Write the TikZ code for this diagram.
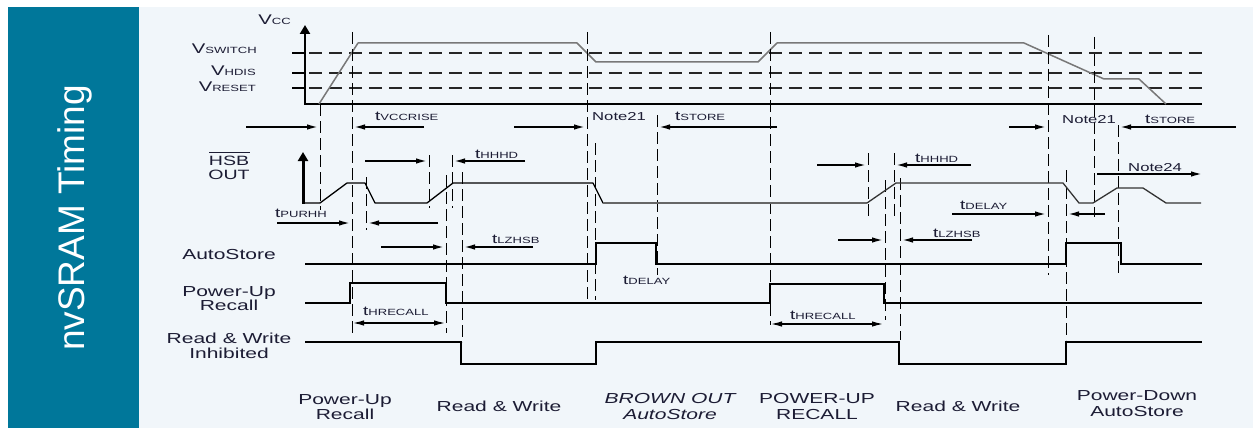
\documentclass[tikz,border=0pt]{standalone}
\usepackage{fontspec}
\setmainfont{Liberation Sans}
\newfontfamily\wide[FakeStretch=1.45]{Liberation Sans}
\usetikzlibrary{arrows.meta}
\definecolor{tealbar}{RGB}{0,119,154}
\definecolor{panel}{RGB}{241,246,250}
\definecolor{ink}{RGB}{28,28,52}
\definecolor{vwave}{RGB}{120,120,120}
\newcommand{\tlab}[2]{{\fontsize{13}{13}\selectfont #1}{\fontsize{9}{9}\selectfont #2}}
\newcommand{\vlab}[2]{{\fontsize{14}{14}\selectfont #1}{\fontsize{9}{9}\selectfont #2}}
\tikzset{
  vdash/.style={line width=0.9pt, dash pattern=on 12pt off 5pt},
  lvl/.style={line width=1.1pt, dash pattern=on 13pt off 7pt, black!85},
  tarr/.style={line width=2pt, -{Latex[length=12pt,width=5.5pt]}},
  tarrb/.style={line width=1.8pt, {Latex[length=12pt,width=5.5pt]}-{Latex[length=12pt,width=5.5pt]}},
  sig/.style={line width=2.2pt, line join=miter},
  axisline/.style={line width=2.6pt, line join=miter},
  lab/.style={font=\wide\fontsize{14.5}{15}\selectfont, text=ink, inner sep=0pt, anchor=base},
  tl/.style={font=\wide, text=ink, inner sep=0pt, anchor=base west},
  notel/.style={font=\wide\fontsize{11.5}{12}\selectfont, text=ink, inner sep=0pt, anchor=base west},
  vl/.style={font=\wide, text=ink, inner sep=0pt, anchor=base east}
}
\begin{document}
\begin{tikzpicture}[x=1pt,y=-1pt]
\useasboundingbox (0,0) rectangle (1253,428);
\fill[white] (0,0) rectangle (1253,428);
\fill[panel] (139,7) rectangle (1253,428);
\fill[tealbar] (8,7) rectangle (139,428);
\node[rotate=90, text=white, font=\fontsize{37}{37}\selectfont] (title) at (75,218) {nvSRAM Timing};

% voltage levels
\foreach \y in {53,73,88} {
  \draw[line width=1.1pt] (292,\y) -- (305,\y);
  \draw[lvl] (309,\y) -- (1202,\y);
}
% Vcc axis
\draw[axisline, {Triangle[length=9pt,width=10pt]}-] (305,25) -- (305,104) -- (1202,104);
% Vcc waveform
\draw[vwave, line width=1.5pt, line join=round] (319,104) -- (358,43) -- (577,43) -- (596,62) -- (758,62) -- (777,43) -- (1024,43) -- (1104,79) -- (1139,79) -- (1166,104);

% level labels
\node[vl] (vcc) at (291,25) {\vlab{V}{CC}};
\node[vl] (vsw) at (257,54) {\vlab{V}{SWITCH}};
\node[vl] (vhd) at (256,76) {\vlab{V}{HDIS}};
\node[vl] (vrs) at (256,92) {\vlab{V}{RESET}};

% dashed verticals
\foreach \x/\a/\b in {320/104/210, 352/32/333, 366/177/230, 429/155/208, 446/175/333, 452/155/208, 462/172/342,
  587/32/300, 595/143/300, 657/115/275, 770/32/325, 868/153/217, 885/180/320, 894/153/217, 900/178/340,
  1048/35/275, 1066/170/340, 1094/37/217, 1118/125/277} {
  \draw[vdash] (\x,\a) -- (\x,\b);
}

% HSB OUT
\draw[axisline, line width=3pt, {Triangle[length=9pt,width=10pt]}-] (303,152) -- (303,204);
\draw[line width=1.3pt, line join=round] (303,203) -- (320,203) -- (347,183) -- (365,183) -- (375,203) -- (427,203) -- (453,183) -- (593,183) -- (603,203) -- (610,203);
\draw[black!60, line width=1.3pt] (603,203) -- (867,203);
\draw[black!80, line width=1.3pt, line join=round] (867,203) -- (896,183) -- (1063,183) -- (1079,203) -- (1093,203) -- (1117,188) -- (1143,188) -- (1166,203) -- (1201,203);

\node[lab, font=\wide\fontsize{13.5}{14}\selectfont] (hsb) at (229,165) {HSB};
\draw[ink, line width=1pt] (209,152) -- (250,152);
\node[lab, font=\wide\fontsize{13.5}{14}\selectfont] (hout) at (229,179) {OUT};

% signals
\draw[sig] (305,264) -- (596,264) -- (596,243) -- (656,243) -- (656,264) -- (1066,264) -- (1066,243) -- (1121,243) -- (1121,264) -- (1202,264);
\draw[sig] (305,303) -- (350,303) -- (350,283) -- (446,283) -- (446,303) -- (770,303) -- (770,284) -- (884,284) -- (884,303) -- (1202,303);
\draw[sig] (305,342) -- (461,342) -- (461,364) -- (596,364) -- (596,342) -- (899,342) -- (899,364) -- (1066,364) -- (1066,342) -- (1202,342);

% timing arrows
\draw[tarr] (246,127) -- (319,127);
\draw[tarr] (424,127) -- (353,127);
\draw[tarr] (514,127) -- (586,127);
\draw[tarr] (777,127) -- (658,127);
\draw[tarr] (1009,127) -- (1047,127);
\draw[tarr] (1236,127) -- (1119,127);
\draw[tarr] (365,161) -- (428,161);
\draw[tarr] (525,161) -- (453,161);
\draw[tarr] (817,165) -- (867,165);
\draw[tarr] (971,165) -- (895,165);
\draw[tarr] (1097,174) -- (1203,174);
\draw[tarr] (277,223) -- (351,223);
\draw[tarr] (438,223) -- (367,223);
\draw[tarr] (952,214) -- (1047,214);
\draw[tarr] (1105,214) -- (1067,214);
\draw[tarr] (381,247) -- (445,247);
\draw[tarr] (533,247) -- (463,247);
\draw[tarr] (838,240) -- (884,240);
\draw[tarr] (972,240) -- (901,240);
\draw[tarrb] (352,323) -- (446,323);
\draw[tarrb] (770,324) -- (884,324);

% timing labels
\node[tl] (t1) at (375,121) {\tlab{t}{VCCRISE}};
\node[notel] (n1) at (592,121) {Note21};
\node[tl] (t2) at (675,121) {\tlab{t}{STORE}};
\node[notel] (n2) at (1062,123) {Note21};
\node[tl] (t3) at (1145,123) {\tlab{t}{STORE}};
\node[tl] (t4) at (475,158) {\tlab{t}{HHHD}};
\node[tl] (t5) at (915,162) {\tlab{t}{HHHD}};
\node[notel] (n3) at (1128,171) {Note24};
\node[tl] (t6) at (275,217) {\tlab{t}{PURHH}};
\node[tl] (t7) at (960,209) {\tlab{t}{DELAY}};
\node[tl] (t8) at (492,243) {\tlab{t}{LZHSB}};
\node[tl] (t9) at (933,237) {\tlab{t}{LZHSB}};
\node[tl] (t10) at (623,284) {\tlab{t}{DELAY}};
\node[tl] (t11) at (363,315) {\tlab{t}{HRECALL}};
\node[tl] (t12) at (790,319) {\tlab{t}{HRECALL}};

% row labels
\node[lab] (r1) at (229,259) {AutoStore};
\node[lab] (r2a) at (229,296) {Power-Up};
\node[lab] (r2b) at (229,310) {Recall};
\node[lab] (r3a) at (229,343) {Read \& Write};
\node[lab] (r3b) at (229,358) {Inhibited};

% phase labels
\node[lab] (p1a) at (345,404) {Power-Up};
\node[lab] (p1b) at (345,419) {Recall};
\node[lab] (p2) at (499,411) {Read \& Write};
\node[lab, font=\wide\itshape\fontsize{14.5}{15}\selectfont] (p3a) at (670,403) {BROWN OUT};
\node[lab, font=\wide\itshape\fontsize{14.5}{15}\selectfont] (p3b) at (670,419) {AutoStore};
\node[lab] (p4a) at (817,403) {POWER-UP};
\node[lab] (p4b) at (817,419) {RECALL};
\node[lab] (p5) at (958,411) {Read \& Write};
\node[lab] (p6a) at (1137,400) {Power-Down};
\node[lab] (p6b) at (1137,416) {AutoStore};
\end{tikzpicture}
\end{document}
